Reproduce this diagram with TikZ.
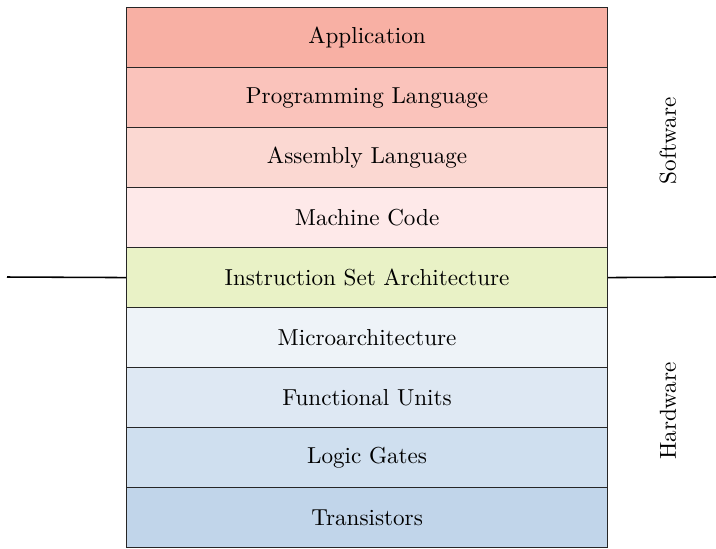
\documentclass[tikz,border=0pt]{standalone}
\begin{document}
\begin{tikzpicture}[x=0.45pt,y=-0.45pt,
  layer/.style={draw=black!85, line width=0.5pt, minimum width=481*0.45pt, minimum height=60*0.45pt, inner sep=0pt, anchor=north west, font=\fontsize{10.4}{12}\selectfont},
  side/.style={rotate=90, font=\fontsize{10.4}{12}\selectfont}]
\useasboundingbox (0,0) rectangle (716,548);
\definecolor{c1}{HTML}{F8B0A4}
\definecolor{c2}{HTML}{FAC3BB}
\definecolor{c3}{HTML}{FBD8D2}
\definecolor{c4}{HTML}{FEE9E9}
\definecolor{c5}{HTML}{E9F2C6}
\definecolor{c6}{HTML}{EEF3F8}
\definecolor{c7}{HTML}{DEE8F3}
\definecolor{c8}{HTML}{CFDFEF}
\definecolor{c9}{HTML}{C1D5EA}
\node[layer, fill=c1] (app) at (126,7) {Application};
\node[layer, fill=c2] (pl) at (126,67) {Programming Language};
\node[layer, fill=c3] (asm) at (126,127) {Assembly Language};
\node[layer, fill=c4] (mc) at (126,187) {Machine Code};
\node[layer, fill=c5] (isa) at (126,247) {Instruction Set Architecture};
\node[layer, fill=c6] (ua) at (126,307) {Microarchitecture};
\node[layer, fill=c7] (fu) at (126,367) {Functional Units};
\node[layer, fill=c8] (lg) at (126,427) {Logic Gates};
\node[layer, fill=c9] (tr) at (126,487) {Transistors};
\coordinate (lend) at (7,277);
\coordinate (rend) at (716,277);
\draw[line width=0.7pt] (lend) -- (isa.west);
\draw[line width=0.7pt] (isa.east) -- (rend);
\node[side] (sw) at (668,141) {Software};
\node[side] (hw) at (668,411) {Hardware};
\end{tikzpicture}
\end{document}
